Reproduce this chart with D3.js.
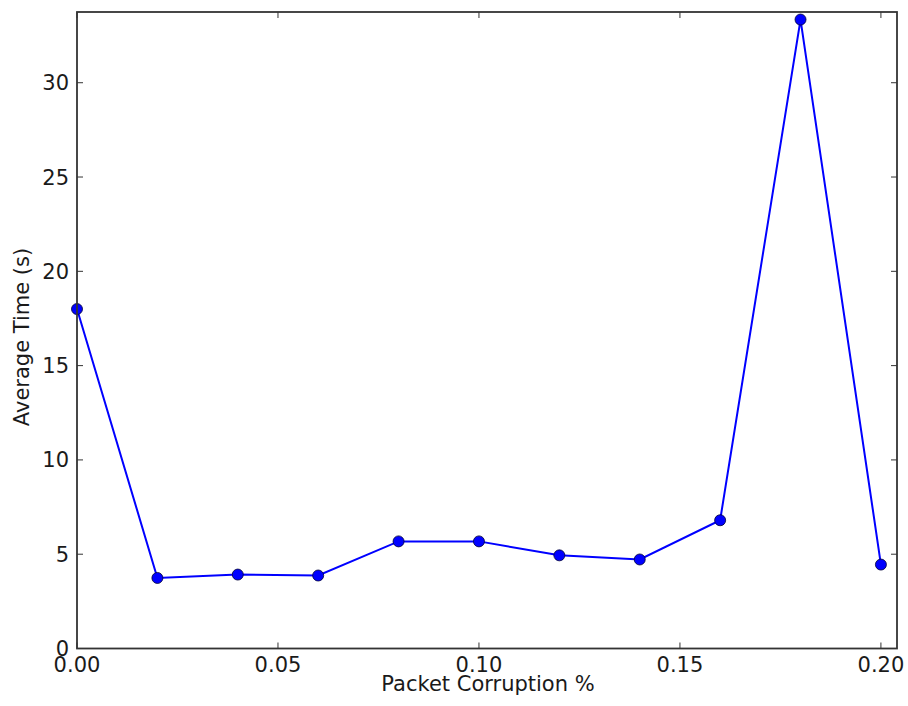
<!DOCTYPE html>
<html>
<head>
<meta charset="utf-8">
<style>
	body { margin: 0; background: #ffffff; }
	svg text { font-family: "DejaVu Sans", sans-serif; fill: #1a1a1a; }
</style>
</head>
<body>
	<svg id="chart" width="908" height="706"></svg>
	<script src="https://cdnjs.cloudflare.com/ajax/libs/d3/7.8.5/d3.min.js"></script>
	<script>
		// data
		var corruption = [0.00, 0.02, 0.04, 0.06, 0.08, 0.10, 0.12, 0.14, 0.16, 0.18, 0.20];
		var avgTime = [18.0, 3.74, 3.92, 3.87, 5.68, 5.68, 4.94, 4.72, 6.80, 33.35, 4.45];
		var xTicks = [0.00, 0.05, 0.10, 0.15, 0.20];
		var yTicks = [0, 5, 10, 15, 20, 25, 30];

		var plotL = 77, plotR = 897, plotT = 12, plotB = 648.5;
		var svg = d3.select("#chart");

		var x = d3.scaleLinear().domain([0, 0.204]).range([plotL, plotR]);
		var y = d3.scaleLinear().domain([0, 33.75]).range([plotB, plotT]);

		var tickLen = 6;
		var fs = 21;

		// x axis ticks (bottom and top, pointing inward)
		var xg = svg.append("g");
		xTicks.forEach(function(t){
			xg.append("line").attr("x1", x(t)).attr("x2", x(t)).attr("y1", plotB).attr("y2", plotB - tickLen)
				.attr("stroke", "#333").attr("stroke-width", 1);
			xg.append("line").attr("x1", x(t)).attr("x2", x(t)).attr("y1", plotT).attr("y2", plotT + tickLen)
				.attr("stroke", "#333").attr("stroke-width", 1);
			xg.append("text").attr("x", x(t)).attr("y", plotB + 23).attr("text-anchor", "middle")
				.style("font-size", fs + "px").text(d3.format(".2f")(t));
		});

		// y axis ticks (left and right, pointing inward)
		var yg = svg.append("g");
		yTicks.forEach(function(t){
			yg.append("line").attr("x1", plotL).attr("x2", plotL + tickLen).attr("y1", y(t)).attr("y2", y(t))
				.attr("stroke", "#333").attr("stroke-width", 1);
			yg.append("line").attr("x1", plotR).attr("x2", plotR - tickLen).attr("y1", y(t)).attr("y2", y(t))
				.attr("stroke", "#333").attr("stroke-width", 1);
			yg.append("text").attr("x", plotL - 8).attr("y", y(t)).attr("dy", "0.36em").attr("text-anchor", "end")
				.style("font-size", fs + "px").text(t);
		});

		// data line
		var line = d3.line().x(function(d, i){ return x(corruption[i]); }).y(function(d){ return y(d); });
		svg.append("path").datum(avgTime).attr("d", line)
			.attr("fill", "none").attr("stroke", "#0000ff").attr("stroke-width", 2);

		svg.selectAll("circle.pt").data(avgTime).enter().append("circle")
			.attr("class", "pt")
			.attr("cx", function(d, i){ return x(corruption[i]); })
			.attr("cy", function(d){ return y(d); })
			.attr("r", 5.5)
			.attr("fill", "#0000ff").attr("stroke", "#000033").attr("stroke-width", 0.8);

		// frame
		svg.append("rect").attr("x", plotL).attr("y", plotT).attr("width", plotR - plotL).attr("height", plotB - plotT)
			.attr("fill", "none").attr("stroke", "#333").attr("stroke-width", 1.8);

		// axis labels
		svg.append("text").attr("x", 488).attr("y", 691).attr("text-anchor", "middle")
			.style("font-size", fs + "px").text("Packet Corruption %");
		svg.append("text").attr("transform", "translate(29," + 337 + ") rotate(-90)")
			.attr("text-anchor", "middle").style("font-size", fs + "px").text("Average Time (s)");
	</script>
</body>
</html>
